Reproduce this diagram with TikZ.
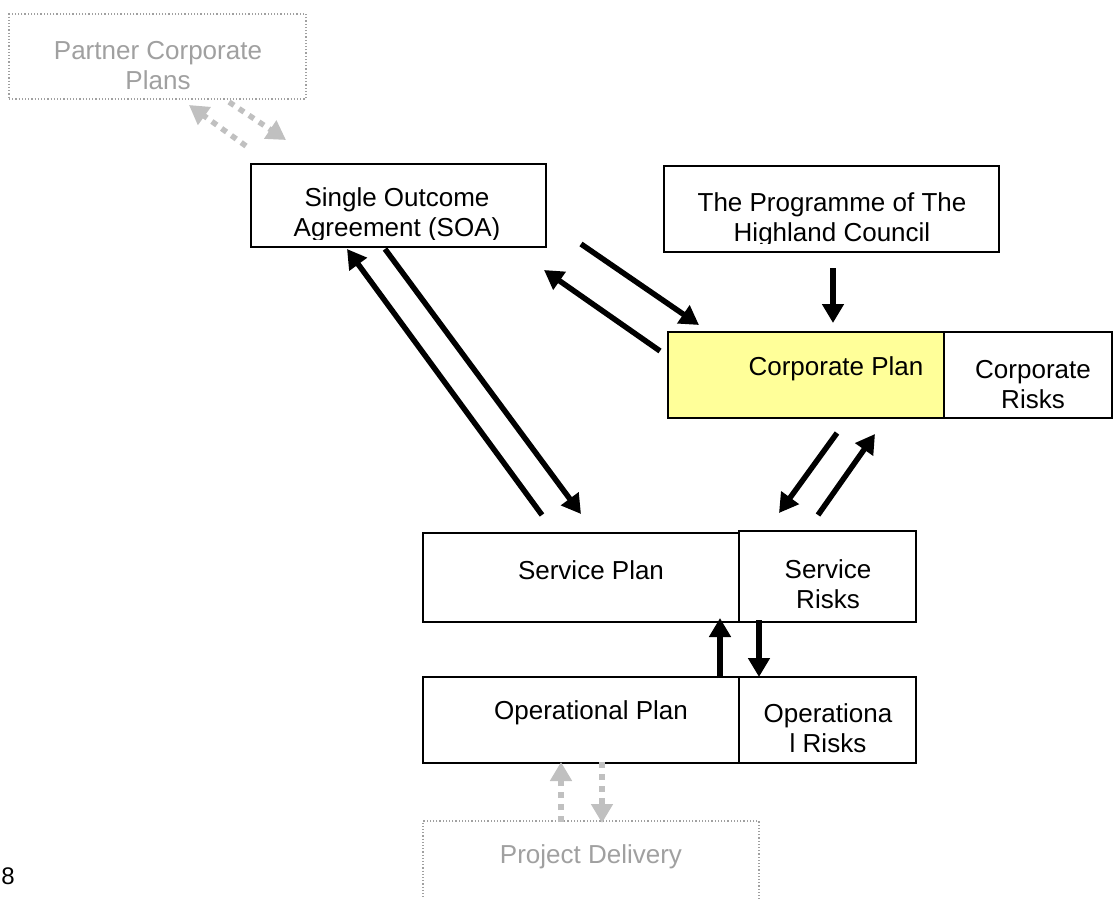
\documentclass[tikz,border=0pt]{standalone}
\usepackage{fontspec}
\setmainfont{Liberation Sans}
\usetikzlibrary{arrows.meta}
\definecolor{planyellow}{HTML}{FFFF99}
\definecolor{softgray}{HTML}{C0C0C0}
\definecolor{softtext}{HTML}{A0A0A0}
\begin{document}
\begin{tikzpicture}[x=1pt,y=-1pt,
  box/.style={draw=black, line width=1.8pt, inner sep=0pt, rectangle},
  ghostbox/.style={draw=softtext, line width=1.2pt, dotted, inner sep=0pt, rectangle},
  lbl/.style={font=\fontsize{26}{30}\selectfont, align=center, inner sep=0pt},
  ghostlbl/.style={lbl, text=softtext},
  flow/.style={line width=5.5pt, -{Triangle[length=19pt,width=21pt]}},
  ghostflow/.style={line width=5.5pt, softgray, dash pattern=on 6pt off 6pt,
    -{Triangle[length=19pt,width=21pt]}}
]
\useasboundingbox[fill=white] (0,0) rectangle (1114,899);

% --- boxes ---
\node[ghostbox, minimum width=297pt, minimum height=85pt] (partner) at (157.5,56.5) {};
\node[box, minimum width=295pt, minimum height=83pt] (soa) at (398.5,205.5) {};
\node[box, minimum width=335pt, minimum height=86pt] (prog) at (831.5,209) {};
\node[box, fill=planyellow, minimum width=276pt, minimum height=86pt] (corp) at (806,375) {};
\node[box, minimum width=168pt, minimum height=86pt] (corprisk) at (1028,375) {};
\node[box, minimum width=316pt, minimum height=89pt] (svc) at (581,577.5) {};
\node[box, minimum width=177pt, minimum height=91pt] (svcrisk) at (827.5,576.5) {};
\node[box, minimum width=316pt, minimum height=86pt] (op) at (581,720) {};
\node[box, minimum width=177pt, minimum height=86pt] (oprisk) at (827.5,720) {};
\begin{scope}
  \clip (0,0) rectangle (1114,899);
  \node[ghostbox, minimum width=336pt, minimum height=120pt] (proj) at (591,881) {};
\end{scope}

% --- texts ---
\node[ghostlbl] (partnertext) at (158,66) {Partner Corporate\\Plans};
\begin{scope}
  \clip (253,166) rectangle (544,239);
  \node[lbl] (soatext) at (397,215) {Single Outcome\\Agreement (SOA)};
\end{scope}
\begin{scope}
  \clip (666,168) rectangle (997,243);
  \node[lbl] (progtext) at (832,220) {The Programme of The\\Highland Council};
\end{scope}
\node[lbl] (corptext) at (836,369) {Corporate Plan};
\node[lbl] (corprisktext) at (1033,385) {Corporate\\Risks};
\node[lbl] (svctext) at (591,570) {Service Plan};
\node[lbl] (svcrisktext) at (828,584) {Service\\Risks};
\node[lbl] (optext) at (591,713) {Operational Plan};
\node[lbl] (oprisktext) at (828,728) {Operationa\\l Risks};
\node[ghostlbl] (projtext) at (591,857) {Project Delivery};
\node[font=\fontsize{24}{28}\selectfont, inner sep=0pt] (pagenum) at (8,876) {8};

% --- connector end points ---
\coordinate (pA1) at (246,146);  \coordinate (pA2) at (189,105);
\coordinate (pB1) at (229,102);  \coordinate (pB2) at (286,140);
\coordinate (sc1) at (581,244);  \coordinate (sc2) at (699,325);
\coordinate (cs1) at (660,351);  \coordinate (cs2) at (544,270);
\coordinate (pc1) at (833,268);  \coordinate (pc2) at (833,323);
\coordinate (cr1) at (837,433);  \coordinate (cr2) at (779,513);
\coordinate (rc1) at (818,515);  \coordinate (rc2) at (875,434);
\coordinate (vs1) at (542,515);  \coordinate (vs2) at (347,249);
\coordinate (sv1) at (385,249);  \coordinate (sv2) at (581,514);
\coordinate (ov1) at (720,678);  \coordinate (ov2) at (720,618);
\coordinate (ro1) at (759,620);  \coordinate (ro2) at (759,677);
\coordinate (jo1) at (561,822);  \coordinate (jo2) at (561,762);
\coordinate (oj1) at (602,762);  \coordinate (oj2) at (602,823);

% --- connectors ---
\draw[ghostflow] (pA1) -- (pA2);
\draw[ghostflow] (pB1) -- (pB2);
\draw[flow] (sc1) -- (sc2);
\draw[flow] (cs1) -- (cs2);
\draw[flow] (pc1) -- (pc2);
\draw[flow] (cr1) -- (cr2);
\draw[flow] (rc1) -- (rc2);
\draw[flow] (vs1) -- (vs2);
\draw[flow] (sv1) -- (sv2);
\draw[flow] (ov1) -- (ov2);
\draw[flow] (ro1) -- (ro2);
\draw[ghostflow] (jo1) -- (jo2);
\draw[ghostflow] (oj1) -- (oj2);
\end{tikzpicture}
\end{document}
